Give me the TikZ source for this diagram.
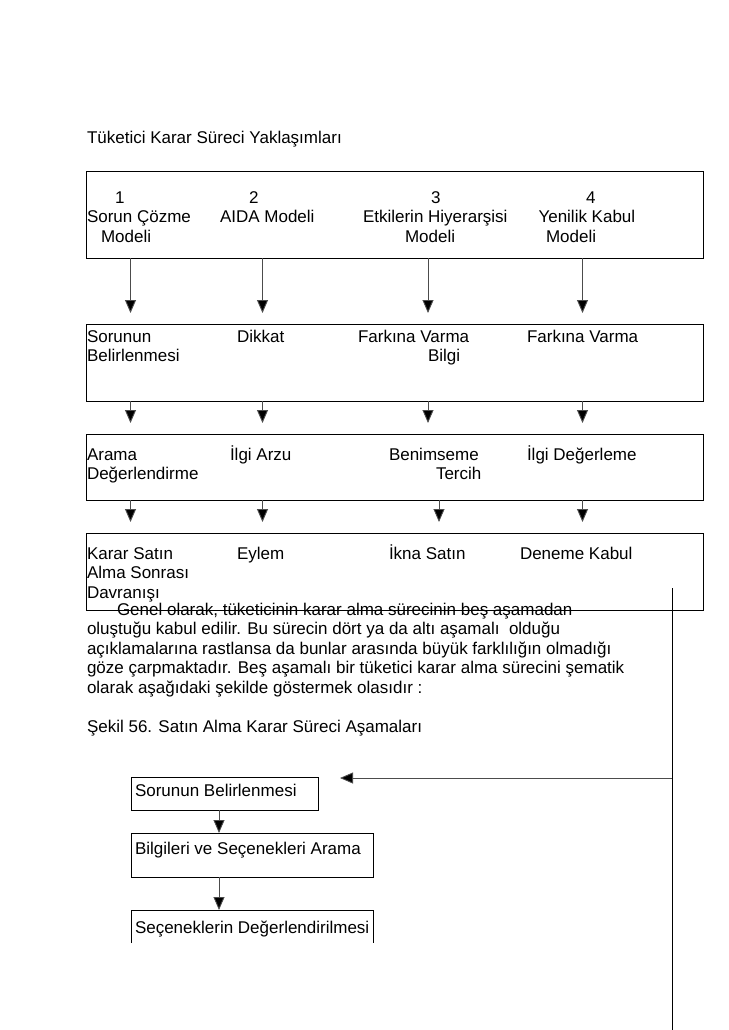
\documentclass[tikz,border=0pt]{standalone}
\usepackage{fontspec}
\setmainfont{Liberation Sans}
\usetikzlibrary{arrows.meta}
\begin{document}
\begin{tikzpicture}[x=1pt,y=-1pt,
  every node/.style={inner sep=0pt, outer sep=0pt, font=\fontsize{17pt}{19.5pt}\selectfont},
  txt/.style={anchor=base west},
  bigbox/.style={draw, line width=0.9pt, anchor=north west, minimum width=617pt},
  flowbox/.style={draw, line width=0.9pt, anchor=north west},
  arr/.style={draw=black!70, line width=0.9pt, -{Triangle[width=11pt,length=13pt,fill=black]}, shorten >=11pt},
  arrb/.style={draw=black!70, line width=0.9pt, -{Triangle[width=11pt,length=13pt,fill=black]}},
  plain/.style={draw=black, line width=0.9pt}]
\path[use as bounding box] (0,0) rectangle (728,1030);

% title
\node[txt] (title) at (87,143) {Tüketici Karar Süreci Yaklaşımları};

% big boxes
\node[bigbox, minimum height=87pt] (b1) at (86,171) {};
\node[bigbox, minimum height=77pt] (b2) at (86,324) {};
\node[bigbox, minimum height=66pt] (b3) at (86,434) {};
\node[bigbox, minimum height=77pt] (b4) at (86,533) {};

% column coordinates
\coordinate (c1) at (130.5,0);
\coordinate (c2) at (262.5,0);
\coordinate (c3) at (428,0);
\coordinate (c3b) at (439,0);
\coordinate (c4) at (582.5,0);

% row 1 texts
\node[txt] (t11a) at (115,203) {1};
\node[txt] (t11b) at (87,222.5) {Sorun Çözme};
\node[txt] (t11c) at (101,242) {Modeli};
\node[txt] (t12a) at (249,203) {2};
\node[txt] (t12b) at (220,222.5) {AIDA Modeli};
\node[txt] (t13a) at (431,203) {3};
\node[txt] (t13b) at (363,222.5) {Etkilerin Hiyerarşisi};
\node[txt] (t13c) at (405,242) {Modeli};
\node[txt] (t14a) at (586,203) {4};
\node[txt] (t14b) at (538.5,222.5) {Yenilik Kabul};
\node[txt] (t14c) at (546,242) {Modeli};

% row 2 texts
\node[txt] (t21a) at (87,342) {Sorunun};
\node[txt] (t21b) at (87,361.5) {Belirlenmesi};
\node[txt] (t22) at (237,342) {Dikkat};
\node[txt] (t23a) at (358,342) {Farkına Varma};
\node[txt] (t23b) at (428,361.5) {Bilgi};
\node[txt] (t24) at (527,342) {Farkına Varma};

% row 3 texts
\node[txt] (t31a) at (87,460) {Arama};
\node[txt] (t31b) at (87,479.5) {Değerlendirme};
\node[txt] (t32) at (230,460) {İlgi Arzu};
\node[txt] (t33a) at (389,460) {Benimseme};
\node[txt] (t33b) at (436,479.5) {Tercih};
\node[txt] (t34) at (527,460) {İlgi Değerleme};

% row 4 texts
\node[txt] (t41a) at (87,559) {Karar Satın};
\node[txt] (t41b) at (87,578.5) {Alma Sonrası};
\node[txt] (t41c) at (87,598) {Davranışı};
\node[txt] (t42) at (237,559) {Eylem};
\node[txt] (t43) at (389,559) {İkna Satın};
\node[txt] (t44) at (520,559) {Deneme Kabul};

% arrows between big boxes
\foreach \c in {c1,c2,c3,c4} {
  \draw[arr] (b1.south -| \c) -- (b2.north -| \c);
  \draw[arr] (b2.south -| \c) -- (b3.north -| \c);
}
\foreach \c in {c1,c2,c3b,c4} {
  \draw[arr] (b3.south -| \c) -- (b4.north -| \c);
}

% paragraph
\node[txt] (p1) at (117,615) {Genel olarak, tüketicinin karar alma sürecinin beş aşamadan};
\node[txt] (p2) at (87,634.5) {oluştuğu kabul edilir. Bu sürecin dört ya da altı aşamalı\ \ olduğu};
\node[txt] (p3) at (87,654) {açıklamalarına rastlansa da bunlar arasında büyük farklılığın olmadığı};
\node[txt] (p4) at (87,673.5) {göze çarpmaktadır. Beş aşamalı bir tüketici karar alma sürecini şematik};
\node[txt] (p5) at (87,693) {olarak aşağıdaki şekilde göstermek olasıdır :};
\node[txt] (cap) at (87,732) {Şekil 56. Satın Alma Karar Süreci Aşamaları};

% flow boxes
\node[flowbox, minimum width=187pt, minimum height=33pt] (fa) at (131,777) {};
\node[flowbox, minimum width=242pt, minimum height=44pt] (fb) at (131,833) {};
\node[anchor=north west, minimum width=242pt, minimum height=33pt] (fc) at (131,910) {};
\draw[plain] (fc.south west) -- (fc.north west) -- (fc.north east) -- (fc.south east);
\node[txt] (fat) at (135,796) {Sorunun Belirlenmesi};
\node[txt] (fbt) at (135,854) {Bilgileri ve Seçenekleri Arama};
\node[txt] (fct) at (135,933) {Seçeneklerin Değerlendirilmesi};

\coordinate (c5) at (219,0);
\draw[arrb] (fa.south -| c5) -- (fb.north -| c5);
\draw[arrb] (fb.south -| c5) -- (fc.north -| c5);

% feedback line
\coordinate (vtop) at (672,588);
\coordinate (vbot) at (672,1030);
\coordinate (hend) at (340,778);
\draw[plain] (vtop) -- (vbot);
\draw[arrb] (vtop |- hend) -- (hend);
\end{tikzpicture}
\end{document}
